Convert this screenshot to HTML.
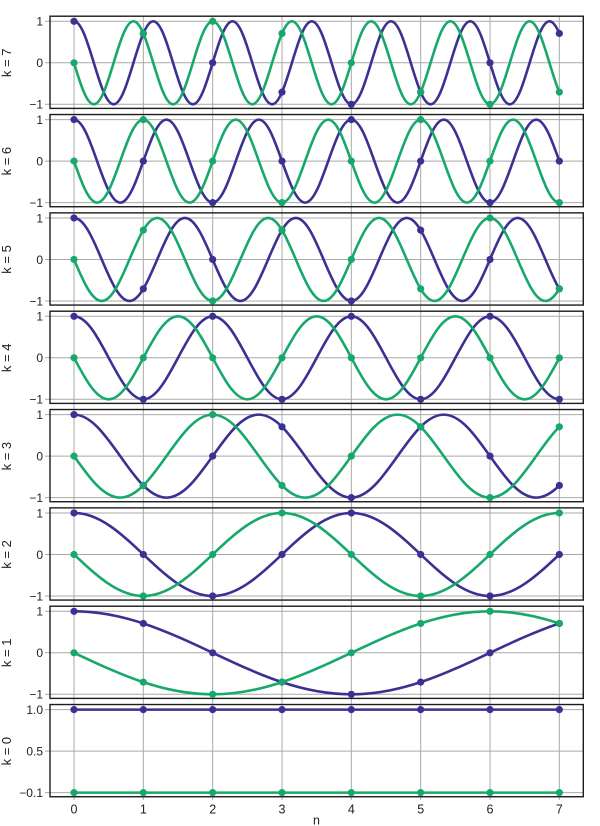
<!DOCTYPE html>
<html><head><meta charset="utf-8"><style>
html,body{margin:0;padding:0;background:#fff;}
svg{display:block;}
text{font-family:"Liberation Sans",Arial,sans-serif;fill:#222;}
.yl{font-size:12px;text-anchor:end;}
.xl{font-size:12.5px;text-anchor:middle;}
.tt{font-size:13px;text-anchor:middle;}
.g{stroke:#a9a9a9;stroke-width:1;fill:none;}
.fr{fill:none;stroke:#1c1c1c;stroke-width:1.4;}
.p{fill:none;stroke:#3a3192;stroke-width:2.6;stroke-linecap:round;stroke-linejoin:round;}
.q{fill:none;stroke:#17a86b;stroke-width:2.6;stroke-linecap:round;stroke-linejoin:round;}
.pd{fill:#3a3192;}
.qd{fill:#17a86b;}
</style></head><body>
<svg width="600" height="826" viewBox="0 0 600 826" xmlns="http://www.w3.org/2000/svg">
<defs><clipPath id="cp"><rect x="60" y="-800" width="499.4" height="2000"/></clipPath></defs>
<rect width="600" height="826" fill="#fff"/>
<!-- vertical grid lines -->
<g class="g">
<line x1="74" y1="16" x2="74" y2="800"/>
<line x1="143.33" y1="16" x2="143.33" y2="800"/>
<line x1="212.67" y1="16" x2="212.67" y2="800"/>
<line x1="282" y1="16" x2="282" y2="800"/>
<line x1="351.33" y1="16" x2="351.33" y2="800"/>
<line x1="420.67" y1="16" x2="420.67" y2="800"/>
<line x1="490" y1="16" x2="490" y2="800"/>
<line x1="559.33" y1="16" x2="559.33" y2="800"/>
</g>

<!-- k = 7 -->
<g transform="translate(0,0)">
<g class="g"><line x1="45" y1="21.3" x2="583" y2="21.3"/><line x1="45" y1="62.8" x2="583" y2="62.8"/><line x1="45" y1="104.3" x2="583" y2="104.3"/></g>
<rect class="fr" x="50" y="16.2" width="533.3" height="92.2"/>
<text class="yl" x="43" y="25.6">1</text><text class="yl" x="43" y="67.1">0</text><text class="yl" x="43" y="108.6">−1</text>
<text class="tt" transform="translate(11,62.8) rotate(-90)">k = 7</text>
<g clip-path="url(#cp)">
<path class="p" d="M74,21.3c7.2,0 13.36,20.28 19.81,41.5c6.45,21.22 12.61,41.5 19.81,41.5c7.2,0 13.36,-20.28 19.81,-41.5c6.45,-21.22 12.61,-41.5 19.81,-41.5c7.2,0 13.36,20.28 19.81,41.5c6.45,21.22 12.61,41.5 19.81,41.5c7.2,0 13.36,-20.28 19.81,-41.5c6.45,-21.22 12.61,-41.5 19.81,-41.5c7.2,0 13.36,20.28 19.81,41.5c6.45,21.22 12.61,41.5 19.81,41.5c7.2,0 13.36,-20.28 19.81,-41.5c6.45,-21.22 12.61,-41.5 19.81,-41.5c7.2,0 13.36,20.28 19.81,41.5c6.45,21.22 12.61,41.5 19.81,41.5c7.2,0 13.36,-20.28 19.81,-41.5c6.45,-21.22 12.61,-41.5 19.81,-41.5c7.2,0 13.36,20.28 19.81,41.5c6.45,21.22 12.61,41.5 19.81,41.5c7.2,0 13.36,-20.28 19.81,-41.5c6.45,-21.22 12.61,-41.5 19.81,-41.5c7.2,0 13.36,20.28 19.81,41.5c6.45,21.22 12.61,41.5 19.81,41.5c7.2,0 13.36,-20.28 19.81,-41.5c6.45,-21.22 12.61,-41.5 19.81,-41.5c7.2,0 13.36,20.28 19.81,41.5"/>
<path class="q" d="M74,62.8c6.45,21.22 12.61,41.5 19.81,41.5c7.2,0 13.36,-20.28 19.81,-41.5c6.45,-21.22 12.61,-41.5 19.81,-41.5c7.2,0 13.36,20.28 19.81,41.5c6.45,21.22 12.61,41.5 19.81,41.5c7.2,0 13.36,-20.28 19.81,-41.5c6.45,-21.22 12.61,-41.5 19.81,-41.5c7.2,0 13.36,20.28 19.81,41.5c6.45,21.22 12.61,41.5 19.81,41.5c7.2,0 13.36,-20.28 19.81,-41.5c6.45,-21.22 12.61,-41.5 19.81,-41.5c7.2,0 13.36,20.28 19.81,41.5c6.45,21.22 12.61,41.5 19.81,41.5c7.2,0 13.36,-20.28 19.81,-41.5c6.45,-21.22 12.61,-41.5 19.81,-41.5c7.2,0 13.36,20.28 19.81,41.5c6.45,21.22 12.61,41.5 19.81,41.5c7.2,0 13.36,-20.28 19.81,-41.5c6.45,-21.22 12.61,-41.5 19.81,-41.5c7.2,0 13.36,20.28 19.81,41.5c6.45,21.22 12.61,41.5 19.81,41.5c7.2,0 13.36,-20.28 19.81,-41.5c6.45,-21.22 12.61,-41.5 19.81,-41.5c7.2,0 13.36,20.28 19.81,41.5c6.45,21.22 12.61,41.5 19.81,41.5"/>
</g>
<g class="pd"><circle cx="74" cy="21.3" r="3.6"/><circle cx="143.33" cy="33.46" r="3.6"/><circle cx="212.67" cy="62.8" r="3.6"/><circle cx="282" cy="92.14" r="3.6"/><circle cx="351.33" cy="104.3" r="3.6"/><circle cx="420.67" cy="92.14" r="3.6"/><circle cx="490" cy="62.8" r="3.6"/><circle cx="559.33" cy="33.46" r="3.6"/></g>
<g class="qd"><circle cx="74" cy="62.8" r="3.6"/><circle cx="143.33" cy="33.46" r="3.6"/><circle cx="212.67" cy="21.3" r="3.6"/><circle cx="282" cy="33.46" r="3.6"/><circle cx="351.33" cy="62.8" r="3.6"/><circle cx="420.67" cy="92.14" r="3.6"/><circle cx="490" cy="104.3" r="3.6"/><circle cx="559.33" cy="92.14" r="3.6"/></g>
</g>

<!-- k = 6 -->
<g transform="translate(0,98.33)">
<g class="g"><line x1="45" y1="21.3" x2="583" y2="21.3"/><line x1="45" y1="62.8" x2="583" y2="62.8"/><line x1="45" y1="104.3" x2="583" y2="104.3"/></g>
<rect class="fr" x="50" y="16.2" width="533.3" height="92.2"/>
<text class="yl" x="43" y="25.6">1</text><text class="yl" x="43" y="67.1">0</text><text class="yl" x="43" y="108.6">−1</text>
<text class="tt" transform="translate(11,62.8) rotate(-90)">k = 6</text>
<g clip-path="url(#cp)">
<path class="p" d="M74,21.3c8.4,0 15.59,20.28 23.11,41.5c7.52,21.22 14.71,41.5 23.11,41.5c8.4,0 15.59,-20.28 23.11,-41.5c7.52,-21.22 14.71,-41.5 23.11,-41.5c8.4,0 15.59,20.28 23.11,41.5c7.52,21.22 14.71,41.5 23.11,41.5c8.4,0 15.59,-20.28 23.11,-41.5c7.52,-21.22 14.71,-41.5 23.11,-41.5c8.4,0 15.59,20.28 23.11,41.5c7.52,21.22 14.71,41.5 23.11,41.5c8.4,0 15.59,-20.28 23.11,-41.5c7.52,-21.22 14.71,-41.5 23.11,-41.5c8.4,0 15.59,20.28 23.11,41.5c7.52,21.22 14.71,41.5 23.11,41.5c8.4,0 15.59,-20.28 23.11,-41.5c7.52,-21.22 14.71,-41.5 23.11,-41.5c8.4,0 15.59,20.28 23.11,41.5c7.52,21.22 14.71,41.5 23.11,41.5c8.4,0 15.59,-20.28 23.11,-41.5c7.52,-21.22 14.71,-41.5 23.11,-41.5c8.4,0 15.59,20.28 23.11,41.5"/>
<path class="q" d="M74,62.8c7.52,21.22 14.71,41.5 23.11,41.5c8.4,0 15.59,-20.28 23.11,-41.5c7.52,-21.22 14.71,-41.5 23.11,-41.5c8.4,0 15.59,20.28 23.11,41.5c7.52,21.22 14.71,41.5 23.11,41.5c8.4,0 15.59,-20.28 23.11,-41.5c7.52,-21.22 14.71,-41.5 23.11,-41.5c8.4,0 15.59,20.28 23.11,41.5c7.52,21.22 14.71,41.5 23.11,41.5c8.4,0 15.59,-20.28 23.11,-41.5c7.52,-21.22 14.71,-41.5 23.11,-41.5c8.4,0 15.59,20.28 23.11,41.5c7.52,21.22 14.71,41.5 23.11,41.5c8.4,0 15.59,-20.28 23.11,-41.5c7.52,-21.22 14.71,-41.5 23.11,-41.5c8.4,0 15.59,20.28 23.11,41.5c7.52,21.22 14.71,41.5 23.11,41.5c8.4,0 15.59,-20.28 23.11,-41.5c7.52,-21.22 14.71,-41.5 23.11,-41.5c8.4,0 15.59,20.28 23.11,41.5c7.52,21.22 14.71,41.5 23.11,41.5"/>
</g>
<g class="pd"><circle cx="74" cy="21.3" r="3.6"/><circle cx="143.33" cy="62.8" r="3.6"/><circle cx="212.67" cy="104.3" r="3.6"/><circle cx="282" cy="62.8" r="3.6"/><circle cx="351.33" cy="21.3" r="3.6"/><circle cx="420.67" cy="62.8" r="3.6"/><circle cx="490" cy="104.3" r="3.6"/><circle cx="559.33" cy="62.8" r="3.6"/></g>
<g class="qd"><circle cx="74" cy="62.8" r="3.6"/><circle cx="143.33" cy="21.3" r="3.6"/><circle cx="212.67" cy="62.8" r="3.6"/><circle cx="282" cy="104.3" r="3.6"/><circle cx="351.33" cy="62.8" r="3.6"/><circle cx="420.67" cy="21.3" r="3.6"/><circle cx="490" cy="62.8" r="3.6"/><circle cx="559.33" cy="104.3" r="3.6"/></g>
</g>

<!-- k = 5 -->
<g transform="translate(0,196.67)">
<g class="g"><line x1="45" y1="21.3" x2="583" y2="21.3"/><line x1="45" y1="62.8" x2="583" y2="62.8"/><line x1="45" y1="104.3" x2="583" y2="104.3"/></g>
<rect class="fr" x="50" y="16.2" width="533.3" height="92.2"/>
<text class="yl" x="43" y="25.6">1</text><text class="yl" x="43" y="67.1">0</text><text class="yl" x="43" y="108.6">−1</text>
<text class="tt" transform="translate(11,62.8) rotate(-90)">k = 5</text>
<g clip-path="url(#cp)">
<path class="p" d="M74,21.3c10.08,0 18.71,20.28 27.73,41.5c9.03,21.22 17.66,41.5 27.73,41.5c10.08,0 18.71,-20.28 27.73,-41.5c9.03,-21.22 17.66,-41.5 27.73,-41.5c10.08,0 18.71,20.28 27.73,41.5c9.03,21.22 17.66,41.5 27.73,41.5c10.08,0 18.71,-20.28 27.73,-41.5c9.03,-21.22 17.66,-41.5 27.73,-41.5c10.08,0 18.71,20.28 27.73,41.5c9.03,21.22 17.66,41.5 27.73,41.5c10.08,0 18.71,-20.28 27.73,-41.5c9.03,-21.22 17.66,-41.5 27.73,-41.5c10.08,0 18.71,20.28 27.73,41.5c9.03,21.22 17.66,41.5 27.73,41.5c10.08,0 18.71,-20.28 27.73,-41.5c9.03,-21.22 17.66,-41.5 27.73,-41.5c10.08,0 18.71,20.28 27.73,41.5c9.03,21.22 17.66,41.5 27.73,41.5"/>
<path class="q" d="M74,62.8c9.03,21.22 17.66,41.5 27.73,41.5c10.08,0 18.71,-20.28 27.73,-41.5c9.03,-21.22 17.66,-41.5 27.73,-41.5c10.08,0 18.71,20.28 27.73,41.5c9.03,21.22 17.66,41.5 27.73,41.5c10.08,0 18.71,-20.28 27.73,-41.5c9.03,-21.22 17.66,-41.5 27.73,-41.5c10.08,0 18.71,20.28 27.73,41.5c9.03,21.22 17.66,41.5 27.73,41.5c10.08,0 18.71,-20.28 27.73,-41.5c9.03,-21.22 17.66,-41.5 27.73,-41.5c10.08,0 18.71,20.28 27.73,41.5c9.03,21.22 17.66,41.5 27.73,41.5c10.08,0 18.71,-20.28 27.73,-41.5c9.03,-21.22 17.66,-41.5 27.73,-41.5c10.08,0 18.71,20.28 27.73,41.5c9.03,21.22 17.66,41.5 27.73,41.5c10.08,0 18.71,-20.28 27.73,-41.5"/>
</g>
<g class="pd"><circle cx="74" cy="21.3" r="3.6"/><circle cx="143.33" cy="92.14" r="3.6"/><circle cx="212.67" cy="62.8" r="3.6"/><circle cx="282" cy="33.46" r="3.6"/><circle cx="351.33" cy="104.3" r="3.6"/><circle cx="420.67" cy="33.46" r="3.6"/><circle cx="490" cy="62.8" r="3.6"/><circle cx="559.33" cy="92.14" r="3.6"/></g>
<g class="qd"><circle cx="74" cy="62.8" r="3.6"/><circle cx="143.33" cy="33.46" r="3.6"/><circle cx="212.67" cy="104.3" r="3.6"/><circle cx="282" cy="33.46" r="3.6"/><circle cx="351.33" cy="62.8" r="3.6"/><circle cx="420.67" cy="92.14" r="3.6"/><circle cx="490" cy="21.3" r="3.6"/><circle cx="559.33" cy="92.14" r="3.6"/></g>
</g>

<!-- k = 4 -->
<g transform="translate(0,295)">
<g class="g"><line x1="45" y1="21.3" x2="583" y2="21.3"/><line x1="45" y1="62.8" x2="583" y2="62.8"/><line x1="45" y1="104.3" x2="583" y2="104.3"/></g>
<rect class="fr" x="50" y="16.2" width="533.3" height="92.2"/>
<text class="yl" x="43" y="25.6">1</text><text class="yl" x="43" y="67.1">0</text><text class="yl" x="43" y="108.6">−1</text>
<text class="tt" transform="translate(11,62.8) rotate(-90)">k = 4</text>
<g clip-path="url(#cp)">
<path class="p" d="M74,21.3c12.6,0 23.38,20.28 34.67,41.5c11.28,21.22 22.07,41.5 34.67,41.5c12.6,0 23.38,-20.28 34.67,-41.5c11.28,-21.22 22.07,-41.5 34.67,-41.5c12.6,0 23.38,20.28 34.67,41.5c11.28,21.22 22.07,41.5 34.67,41.5c12.6,0 23.38,-20.28 34.67,-41.5c11.28,-21.22 22.07,-41.5 34.67,-41.5c12.6,0 23.38,20.28 34.67,41.5c11.28,21.22 22.07,41.5 34.67,41.5c12.6,0 23.38,-20.28 34.67,-41.5c11.28,-21.22 22.07,-41.5 34.67,-41.5c12.6,0 23.38,20.28 34.67,41.5c11.28,21.22 22.07,41.5 34.67,41.5"/>
<path class="q" d="M74,62.8c11.28,21.22 22.07,41.5 34.67,41.5c12.6,0 23.38,-20.28 34.67,-41.5c11.28,-21.22 22.07,-41.5 34.67,-41.5c12.6,0 23.38,20.28 34.67,41.5c11.28,21.22 22.07,41.5 34.67,41.5c12.6,0 23.38,-20.28 34.67,-41.5c11.28,-21.22 22.07,-41.5 34.67,-41.5c12.6,0 23.38,20.28 34.67,41.5c11.28,21.22 22.07,41.5 34.67,41.5c12.6,0 23.38,-20.28 34.67,-41.5c11.28,-21.22 22.07,-41.5 34.67,-41.5c12.6,0 23.38,20.28 34.67,41.5c11.28,21.22 22.07,41.5 34.67,41.5c12.6,0 23.38,-20.28 34.67,-41.5"/>
</g>
<g class="pd"><circle cx="74" cy="21.3" r="3.6"/><circle cx="143.33" cy="104.3" r="3.6"/><circle cx="212.67" cy="21.3" r="3.6"/><circle cx="282" cy="104.3" r="3.6"/><circle cx="351.33" cy="21.3" r="3.6"/><circle cx="420.67" cy="104.3" r="3.6"/><circle cx="490" cy="21.3" r="3.6"/><circle cx="559.33" cy="104.3" r="3.6"/></g>
<g class="qd"><circle cx="74" cy="62.8" r="3.6"/><circle cx="143.33" cy="62.8" r="3.6"/><circle cx="212.67" cy="62.8" r="3.6"/><circle cx="282" cy="62.8" r="3.6"/><circle cx="351.33" cy="62.8" r="3.6"/><circle cx="420.67" cy="62.8" r="3.6"/><circle cx="490" cy="62.8" r="3.6"/><circle cx="559.33" cy="62.8" r="3.6"/></g>
</g>

<!-- k = 3 -->
<g transform="translate(0,393.33)">
<g class="g"><line x1="45" y1="21.3" x2="583" y2="21.3"/><line x1="45" y1="62.8" x2="583" y2="62.8"/><line x1="45" y1="104.3" x2="583" y2="104.3"/></g>
<rect class="fr" x="50" y="16.2" width="533.3" height="92.2"/>
<text class="yl" x="43" y="25.6">1</text><text class="yl" x="43" y="67.1">0</text><text class="yl" x="43" y="108.6">−1</text>
<text class="tt" transform="translate(11,62.8) rotate(-90)">k = 3</text>
<g clip-path="url(#cp)">
<path class="p" d="M74,21.3c16.8,0 31.18,20.28 46.22,41.5c15.05,21.22 29.43,41.5 46.22,41.5c16.8,0 31.18,-20.28 46.22,-41.5c15.05,-21.22 29.43,-41.5 46.22,-41.5c16.8,0 31.18,20.28 46.22,41.5c15.05,21.22 29.43,41.5 46.22,41.5c16.8,0 31.18,-20.28 46.22,-41.5c15.05,-21.22 29.43,-41.5 46.22,-41.5c16.8,0 31.18,20.28 46.22,41.5c15.05,21.22 29.43,41.5 46.22,41.5c16.8,0 31.18,-20.28 46.22,-41.5"/>
<path class="q" d="M74,62.8c15.05,21.22 29.43,41.5 46.22,41.5c16.8,0 31.18,-20.28 46.22,-41.5c15.05,-21.22 29.43,-41.5 46.22,-41.5c16.8,0 31.18,20.28 46.22,41.5c15.05,21.22 29.43,41.5 46.22,41.5c16.8,0 31.18,-20.28 46.22,-41.5c15.05,-21.22 29.43,-41.5 46.22,-41.5c16.8,0 31.18,20.28 46.22,41.5c15.05,21.22 29.43,41.5 46.22,41.5c16.8,0 31.18,-20.28 46.22,-41.5c15.05,-21.22 29.43,-41.5 46.22,-41.5"/>
</g>
<g class="pd"><circle cx="74" cy="21.3" r="3.6"/><circle cx="143.33" cy="92.14" r="3.6"/><circle cx="212.67" cy="62.8" r="3.6"/><circle cx="282" cy="33.46" r="3.6"/><circle cx="351.33" cy="104.3" r="3.6"/><circle cx="420.67" cy="33.46" r="3.6"/><circle cx="490" cy="62.8" r="3.6"/><circle cx="559.33" cy="92.14" r="3.6"/></g>
<g class="qd"><circle cx="74" cy="62.8" r="3.6"/><circle cx="143.33" cy="92.14" r="3.6"/><circle cx="212.67" cy="21.3" r="3.6"/><circle cx="282" cy="92.14" r="3.6"/><circle cx="351.33" cy="62.8" r="3.6"/><circle cx="420.67" cy="33.46" r="3.6"/><circle cx="490" cy="104.3" r="3.6"/><circle cx="559.33" cy="33.46" r="3.6"/></g>
</g>

<!-- k = 2 -->
<g transform="translate(0,491.67)">
<g class="g"><line x1="45" y1="21.3" x2="583" y2="21.3"/><line x1="45" y1="62.8" x2="583" y2="62.8"/><line x1="45" y1="104.3" x2="583" y2="104.3"/></g>
<rect class="fr" x="50" y="16.2" width="533.3" height="92.2"/>
<text class="yl" x="43" y="25.6">1</text><text class="yl" x="43" y="67.1">0</text><text class="yl" x="43" y="108.6">−1</text>
<text class="tt" transform="translate(11,62.8) rotate(-90)">k = 2</text>
<g clip-path="url(#cp)">
<path class="p" d="M74,21.3c25.2,0 46.77,20.28 69.33,41.5c22.57,21.22 44.14,41.5 69.33,41.5c25.2,0 46.77,-20.28 69.33,-41.5c22.57,-21.22 44.14,-41.5 69.33,-41.5c25.2,0 46.77,20.28 69.33,41.5c22.57,21.22 44.14,41.5 69.33,41.5c25.2,0 46.77,-20.28 69.33,-41.5"/>
<path class="q" d="M74,62.8c22.57,21.22 44.14,41.5 69.33,41.5c25.2,0 46.77,-20.28 69.33,-41.5c22.57,-21.22 44.14,-41.5 69.33,-41.5c25.2,0 46.77,20.28 69.33,41.5c22.57,21.22 44.14,41.5 69.33,41.5c25.2,0 46.77,-20.28 69.33,-41.5c22.57,-21.22 44.14,-41.5 69.33,-41.5"/>
</g>
<g class="pd"><circle cx="74" cy="21.3" r="3.6"/><circle cx="143.33" cy="62.8" r="3.6"/><circle cx="212.67" cy="104.3" r="3.6"/><circle cx="282" cy="62.8" r="3.6"/><circle cx="351.33" cy="21.3" r="3.6"/><circle cx="420.67" cy="62.8" r="3.6"/><circle cx="490" cy="104.3" r="3.6"/><circle cx="559.33" cy="62.8" r="3.6"/></g>
<g class="qd"><circle cx="74" cy="62.8" r="3.6"/><circle cx="143.33" cy="104.3" r="3.6"/><circle cx="212.67" cy="62.8" r="3.6"/><circle cx="282" cy="21.3" r="3.6"/><circle cx="351.33" cy="62.8" r="3.6"/><circle cx="420.67" cy="104.3" r="3.6"/><circle cx="490" cy="62.8" r="3.6"/><circle cx="559.33" cy="21.3" r="3.6"/></g>
</g>

<!-- k = 1 -->
<g transform="translate(0,590)">
<g class="g"><line x1="45" y1="21.3" x2="583" y2="21.3"/><line x1="45" y1="62.8" x2="583" y2="62.8"/><line x1="45" y1="104.3" x2="583" y2="104.3"/></g>
<rect class="fr" x="50" y="16.2" width="533.3" height="92.2"/>
<text class="yl" x="43" y="25.6">1</text><text class="yl" x="43" y="67.1">0</text><text class="yl" x="43" y="108.6">−1</text>
<text class="tt" transform="translate(11,62.8) rotate(-90)">k = 1</text>
<g clip-path="url(#cp)">
<path class="p" d="M74,21.3c50.39,0 93.53,20.28 138.67,41.5c45.14,21.22 88.28,41.5 138.67,41.5c50.39,0 93.53,-20.28 138.67,-41.5c45.14,-21.22 88.28,-41.5 138.67,-41.5"/>
<path class="q" d="M74,62.8c45.14,21.22 88.28,41.5 138.67,41.5c50.39,0 93.53,-20.28 138.67,-41.5c45.14,-21.22 88.28,-41.5 138.67,-41.5c50.39,0 93.53,20.28 138.67,41.5"/>
</g>
<g class="pd"><circle cx="74" cy="21.3" r="3.6"/><circle cx="143.33" cy="33.46" r="3.6"/><circle cx="212.67" cy="62.8" r="3.6"/><circle cx="282" cy="92.14" r="3.6"/><circle cx="351.33" cy="104.3" r="3.6"/><circle cx="420.67" cy="92.14" r="3.6"/><circle cx="490" cy="62.8" r="3.6"/><circle cx="559.33" cy="33.46" r="3.6"/></g>
<g class="qd"><circle cx="74" cy="62.8" r="3.6"/><circle cx="143.33" cy="92.14" r="3.6"/><circle cx="212.67" cy="104.3" r="3.6"/><circle cx="282" cy="92.14" r="3.6"/><circle cx="351.33" cy="62.8" r="3.6"/><circle cx="420.67" cy="33.46" r="3.6"/><circle cx="490" cy="21.3" r="3.6"/><circle cx="559.33" cy="33.46" r="3.6"/></g>
</g>

<!-- k = 0 -->
<g transform="translate(0,688.33)">
<g class="g"><line x1="45" y1="21.3" x2="583" y2="21.3"/><line x1="45" y1="62.8" x2="583" y2="62.8"/><line x1="45" y1="104.3" x2="583" y2="104.3"/></g>
<rect class="fr" x="50" y="16.2" width="533.3" height="92.2"/>
<text class="yl" x="43" y="25.6">1.0</text><text class="yl" x="43" y="67.1">0.5</text><text class="yl" x="43" y="108.6">−0.1</text>
<text class="tt" transform="translate(11,62.8) rotate(-90)">k = 0</text>
<line class="p" x1="74" y1="21.3" x2="559.33" y2="21.3"/>
<line class="q" x1="74" y1="104.3" x2="559.33" y2="104.3"/>
<g class="pd"><circle cx="74" cy="21.3" r="3.6"/><circle cx="143.33" cy="21.3" r="3.6"/><circle cx="212.67" cy="21.3" r="3.6"/><circle cx="282" cy="21.3" r="3.6"/><circle cx="351.33" cy="21.3" r="3.6"/><circle cx="420.67" cy="21.3" r="3.6"/><circle cx="490" cy="21.3" r="3.6"/><circle cx="559.33" cy="21.3" r="3.6"/></g>
<g class="qd"><circle cx="74" cy="104.3" r="3.6"/><circle cx="143.33" cy="104.3" r="3.6"/><circle cx="212.67" cy="104.3" r="3.6"/><circle cx="282" cy="104.3" r="3.6"/><circle cx="351.33" cy="104.3" r="3.6"/><circle cx="420.67" cy="104.3" r="3.6"/><circle cx="490" cy="104.3" r="3.6"/><circle cx="559.33" cy="104.3" r="3.6"/></g>
</g>

<!-- x axis labels -->
<text class="xl" x="74" y="813.5">0</text>
<text class="xl" x="143.33" y="813.5">1</text>
<text class="xl" x="212.67" y="813.5">2</text>
<text class="xl" x="282" y="813.5">3</text>
<text class="xl" x="351.33" y="813.5">4</text>
<text class="xl" x="420.67" y="813.5">5</text>
<text class="xl" x="490" y="813.5">6</text>
<text class="xl" x="559.33" y="813.5">7</text>
<text class="xl" x="316.5" y="824.5">n</text>
</svg>
</body></html>
